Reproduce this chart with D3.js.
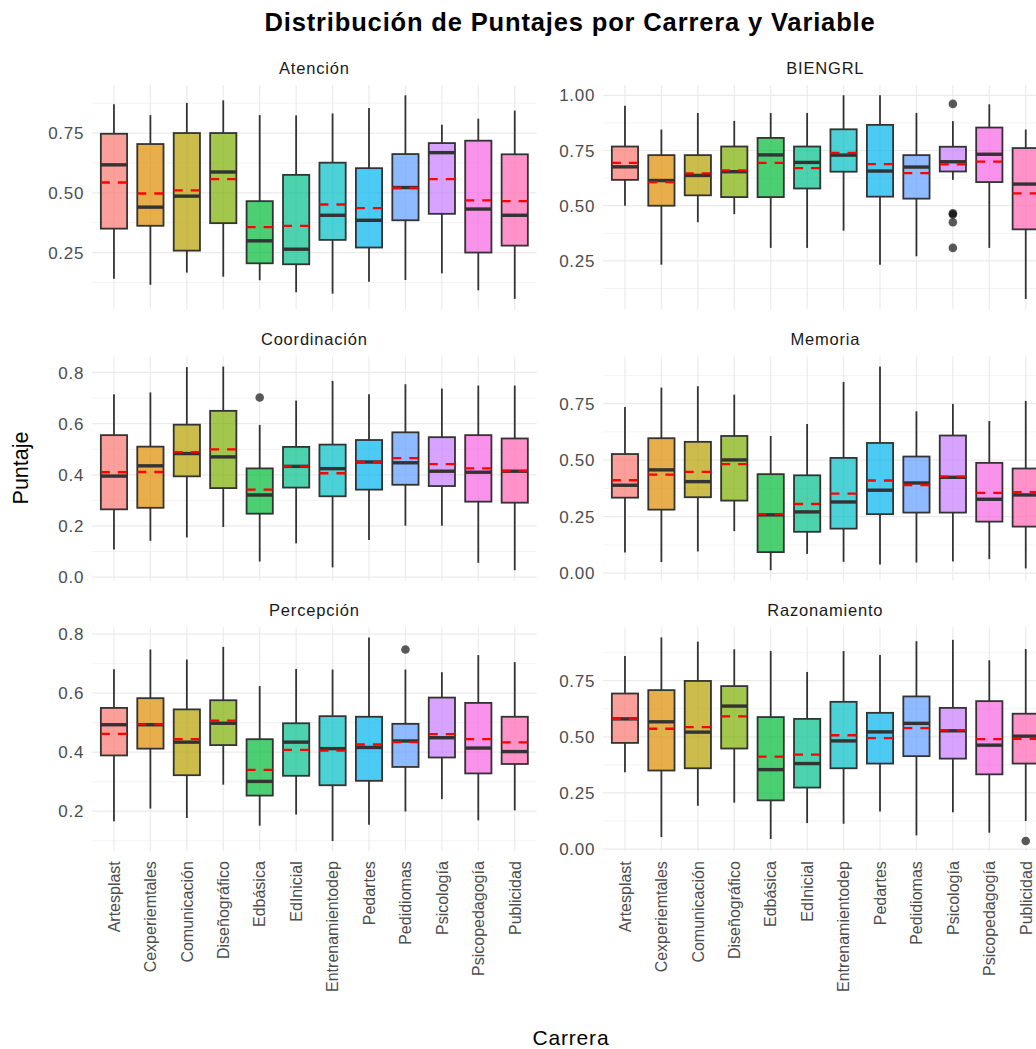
<!DOCTYPE html>
<html><head><meta charset="utf-8">
<script src="https://cdn.jsdelivr.net/npm/d3@7"></script>
<style>
html,body{margin:0;padding:0;overflow:hidden;background:#fff;}
svg{display:block;}
text{font-family:"Liberation Sans",Arial,sans-serif;}
</style></head><body><div id="chart"></div>
<script>
const carreras = ["Artesplast","Cexperiemtales","Comunicación","Diseñográfico","Edbásica","EdInicial","Entrenamientodep","Pedartes","Pedidiomas","Psicología","Psicopedagogía","Publicidad"];
const variables = ["Atención","BIENGRL","Coordinación","Memoria","Percepción","Razonamiento"];
const palette = ["#F8766D","#DE8C00","#B79F00","#7CAE00","#00BA38","#00C08B","#00BFC4","#00B4F0","#619CFF","#C77CFF","#F564E3","#FF64B0"];

// each row: [whisker low, Q1, median, Q3, whisker high, mean]
const atencion = [
 [0.140,0.350,0.617,0.747,0.871,0.543],[0.115,0.362,0.440,0.704,0.825,0.497],
 [0.166,0.258,0.486,0.750,0.876,0.510],[0.149,0.373,0.587,0.750,0.887,0.557],
 [0.134,0.205,0.299,0.465,0.825,0.356],[0.084,0.201,0.264,0.575,0.824,0.362],
 [0.078,0.303,0.406,0.626,0.832,0.451],[0.128,0.271,0.385,0.603,0.855,0.436],
 [0.135,0.385,0.522,0.662,0.908,0.520],[0.163,0.412,0.668,0.708,0.785,0.557],
 [0.092,0.250,0.432,0.718,0.810,0.468],[0.056,0.279,0.406,0.661,0.844,0.465]];
const biengrl = [
 [0.500,0.617,0.676,0.768,0.953,0.694],[0.233,0.500,0.614,0.729,0.845,0.607],
 [0.425,0.547,0.637,0.729,0.920,0.646],[0.462,0.539,0.654,0.768,0.884,0.660],
 [0.309,0.539,0.730,0.807,0.920,0.694],[0.309,0.578,0.696,0.768,0.920,0.670],
 [0.387,0.654,0.729,0.846,1.000,0.739],[0.233,0.541,0.657,0.866,1.000,0.688],
 [0.271,0.532,0.675,0.729,0.920,0.648],[0.617,0.655,0.699,0.767,0.883,0.687],
 [0.309,0.607,0.733,0.854,0.959,0.700],[0.078,0.393,0.598,0.761,0.845,0.556]];
const coordinacion = [
 [0.108,0.265,0.395,0.555,0.715,0.410],[0.142,0.271,0.435,0.510,0.722,0.411],
 [0.155,0.394,0.483,0.596,0.821,0.489],[0.196,0.348,0.470,0.650,0.823,0.499],
 [0.061,0.248,0.321,0.425,0.595,0.342],[0.132,0.350,0.433,0.509,0.690,0.433],
 [0.038,0.316,0.424,0.518,0.767,0.406],[0.145,0.342,0.450,0.536,0.715,0.450],
 [0.201,0.361,0.447,0.566,0.754,0.465],[0.201,0.356,0.414,0.547,0.737,0.442],
 [0.056,0.295,0.410,0.555,0.749,0.425],[0.027,0.291,0.414,0.542,0.749,0.414]];
const memoria = [
 [0.091,0.334,0.389,0.527,0.735,0.411],[0.049,0.281,0.457,0.597,0.821,0.436],
 [0.096,0.336,0.405,0.581,0.827,0.448],[0.186,0.321,0.501,0.607,0.790,0.482],
 [0.013,0.093,0.258,0.438,0.607,0.261],[0.085,0.183,0.271,0.433,0.660,0.306],
 [0.050,0.197,0.315,0.510,0.846,0.352],[0.038,0.261,0.367,0.576,0.914,0.410],
 [0.047,0.268,0.399,0.516,0.716,0.390],[0.052,0.268,0.424,0.609,0.749,0.427],
 [0.062,0.228,0.327,0.488,0.673,0.355],[0.021,0.206,0.346,0.463,0.762,0.358]];
const percepcion = [
 [0.166,0.389,0.493,0.550,0.681,0.462],[0.209,0.412,0.493,0.583,0.748,0.494],
 [0.177,0.322,0.434,0.545,0.714,0.444],[0.290,0.424,0.498,0.576,0.757,0.507],
 [0.151,0.253,0.301,0.444,0.624,0.340],[0.189,0.320,0.434,0.498,0.682,0.408],
 [0.099,0.288,0.412,0.522,0.680,0.405],[0.154,0.303,0.416,0.520,0.789,0.426],
 [0.199,0.350,0.438,0.496,0.680,0.434],[0.241,0.382,0.449,0.585,0.671,0.461],
 [0.169,0.328,0.414,0.567,0.729,0.444],[0.203,0.360,0.402,0.520,0.705,0.433]];
const razonamiento = [
 [0.342,0.473,0.580,0.693,0.860,0.580],[0.054,0.350,0.567,0.708,0.943,0.536],
 [0.193,0.360,0.521,0.749,0.924,0.543],[0.207,0.448,0.637,0.726,0.890,0.591],
 [0.045,0.217,0.354,0.588,0.882,0.412],[0.116,0.274,0.381,0.580,0.789,0.421],
 [0.113,0.360,0.482,0.656,0.882,0.507],[0.167,0.381,0.522,0.607,0.865,0.494],
 [0.061,0.414,0.560,0.680,0.926,0.539],[0.164,0.403,0.527,0.629,0.932,0.530],
 [0.073,0.333,0.463,0.659,0.841,0.490],[0.125,0.381,0.503,0.603,0.891,0.491]];

// outliers: [variable, carrera, value]
const outliers = [
 ["BIENGRL","Psicología",0.961],["BIENGRL","Psicología",0.466],["BIENGRL","Psicología",0.460],
 ["BIENGRL","Psicología",0.425],["BIENGRL","Psicología",0.309],
 ["Coordinación","Edbásica",0.702],["Percepción","Pedidiomas",0.748],["Razonamiento","Publicidad",0.036]];

const ticksAtencion = ["0.25","0.50","0.75"];
const ticksBiengrl = ["0.25","0.50","0.75","1.00"];
const ticksCoordinacion = ["0.0","0.2","0.4","0.6","0.8"];
const ticksMemoria = ["0.00","0.25","0.50","0.75"];
const ticksPercepcion = ["0.2","0.4","0.6","0.8"];
const ticksRazonamiento = ["0.00","0.25","0.50","0.75"];

const statsList = [atencion, biengrl, coordinacion, memoria, percepcion, razonamiento];
const ticksList = [ticksAtencion, ticksBiengrl, ticksCoordinacion, ticksMemoria, ticksPercepcion, ticksRazonamiento];

// layout
const W = 1056, H = 1049;
const panelX = [92.1, 603.1], panelW = 444.5;
const panelTop = [85.1, 356.4, 627.2], panelH = 224.0;
const grid = "#EBEBEB";

const svg = d3.select("#chart").append("svg").attr("width", W).attr("height", H);

svg.append("text").attr("x", 570).attr("y", 31).attr("text-anchor", "middle")
  .attr("font-size", 25.5).attr("font-weight", "bold").attr("letter-spacing", 0.85).attr("fill", "#000")
  .text("Distribución de Puntajes por Carrera y Variable");

variables.forEach((v, i) => {
  const col = i % 2, row = Math.floor(i / 2);
  const x0 = panelX[col], y0 = panelTop[row];
  const stats = statsList[i];
  const outs = outliers.filter(o => o[0] === v);
  const lo = d3.min([...stats.map(s => s[0]), ...outs.map(o => o[2])]);
  const hi = d3.max([...stats.map(s => s[4]), ...outs.map(o => o[2])]);
  const pad = (hi - lo) * 0.05;
  const y = d3.scaleLinear().domain([lo - pad, hi + pad]).range([y0 + panelH, y0]);
  const x = d3.scalePoint().domain(carreras).range([x0, x0 + panelW]).padding(0.6);
  const step = x.step();
  const bw = step * 0.72;

  const g = svg.append("g");
  const majors = ticksList[i].map(Number);
  const st = majors[1] - majors[0];
  const minors = [];
  for (let t = majors[0] - st / 2; t <= hi + pad; t += st) if (t >= lo - pad) minors.push(t);

  g.selectAll(".minor").data(minors).join("line")
    .attr("x1", x0).attr("x2", x0 + panelW).attr("y1", d => y(d)).attr("y2", d => y(d))
    .attr("stroke", grid).attr("stroke-width", 0.6);
  g.selectAll(".major").data(majors).join("line")
    .attr("x1", x0).attr("x2", x0 + panelW).attr("y1", d => y(d)).attr("y2", d => y(d))
    .attr("stroke", grid).attr("stroke-width", 1.2);
  g.selectAll(".vmajor").data(carreras).join("line")
    .attr("x1", d => x(d)).attr("x2", d => x(d)).attr("y1", y0).attr("y2", y0 + panelH)
    .attr("stroke", grid).attr("stroke-width", 1.2);

  // y tick labels
  g.selectAll(".ytl").data(ticksList[i]).join("text")
    .attr("x", x0 - 8).attr("y", d => y(+d)).attr("dy", "0.36em")
    .attr("text-anchor", "end").attr("font-size", 17).attr("letter-spacing", 0.7).attr("fill", "#4D4D4D")
    .text(d => d);

  // strip label
  svg.append("text").attr("x", x0 + panelW / 2).attr("y", y0 - 11)
    .attr("text-anchor", "middle").attr("font-size", 16.5).attr("letter-spacing", 0.8)
    .attr("fill", "#1A1A1A").text(v);

  const boxes = g.selectAll(".box").data(stats).join("g");
  boxes.append("line").attr("x1", (d, j) => x(carreras[j])).attr("x2", (d, j) => x(carreras[j]))
    .attr("y1", d => y(d[0])).attr("y2", d => y(d[1])).attr("stroke", "#333").attr("stroke-width", 1.8);
  boxes.append("line").attr("x1", (d, j) => x(carreras[j])).attr("x2", (d, j) => x(carreras[j]))
    .attr("y1", d => y(d[3])).attr("y2", d => y(d[4])).attr("stroke", "#333").attr("stroke-width", 1.8);
  boxes.append("rect").attr("x", (d, j) => x(carreras[j]) - bw / 2).attr("width", bw)
    .attr("y", d => y(d[3])).attr("height", d => y(d[1]) - y(d[3]))
    .attr("fill", (d, j) => palette[j]).attr("fill-opacity", 0.7)
    .attr("stroke", "#333").attr("stroke-width", 1.8);
  boxes.append("line").attr("x1", (d, j) => x(carreras[j]) - bw / 2).attr("x2", (d, j) => x(carreras[j]) + bw / 2)
    .attr("y1", d => y(d[2])).attr("y2", d => y(d[2])).attr("stroke", "#333").attr("stroke-width", 3.4);

  g.selectAll(".out").data(outs).join("circle")
    .attr("cx", d => x(d[1])).attr("cy", d => y(d[2])).attr("r", 4.3)
    .attr("fill", "#000").attr("fill-opacity", 0.65);

  g.selectAll(".mean").data(stats).join("line")
    .attr("x1", (d, j) => x(carreras[j]) - bw / 2).attr("x2", (d, j) => x(carreras[j]) + bw / 2)
    .attr("y1", d => y(d[5])).attr("y2", d => y(d[5]))
    .attr("stroke", "#FF0000").attr("stroke-width", 2.3).attr("stroke-dasharray", "9,8");

  if (row === 2) {
    g.selectAll(".xtl").data(carreras).join("text")
      .attr("transform", d => `translate(${x(d)},${y0 + panelH + 10}) rotate(-90)`)
      .attr("dy", "0.36em").attr("text-anchor", "end").attr("font-size", 16).attr("fill", "#4D4D4D")
      .text(d => d);
  }
});

svg.append("text").attr("transform", "translate(28,468) rotate(-90)").attr("text-anchor", "middle")
  .attr("font-size", 21.5).attr("fill", "#000").text("Puntaje");
svg.append("text").attr("x", 571).attr("y", 1045).attr("text-anchor", "middle")
  .attr("font-size", 21).attr("letter-spacing", 0.8).attr("fill", "#000").text("Carrera");
</script></body></html>
